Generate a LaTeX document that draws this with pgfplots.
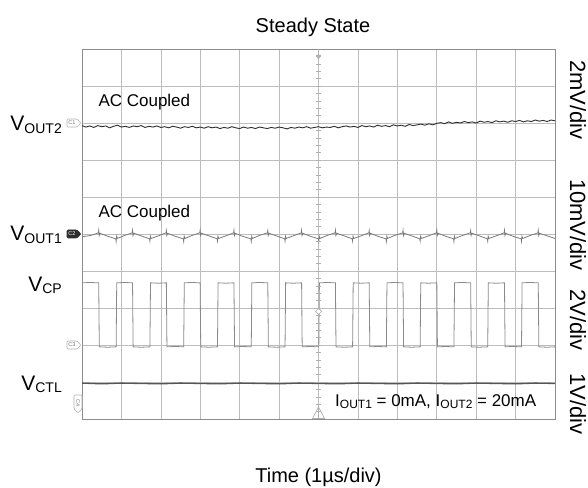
\documentclass[border=0pt]{standalone}
\usepackage{pgfplots}
\pgfplotsset{compat=1.18}
\usepackage{fontspec}
\setmainfont{Liberation Sans}
\definecolor{gridc}{HTML}{BDBDBD}
\definecolor{framec}{HTML}{8C8C8C}
\definecolor{vo2}{HTML}{2E2E2E}
\definecolor{vo1}{HTML}{7A7A7A}
\definecolor{vcp}{HTML}{8A8A8A}
\definecolor{vctl}{HTML}{555555}
\definecolor{markc}{HTML}{B0B0B0}
\newcommand{\Vlab}[1]{{\fontsize{21}{21}\selectfont V\raisebox{-2.3pt}{\fontsize{14}{14}\selectfont #1}}}
\newcommand{\Isub}[1]{I\raisebox{-2pt}{\fontsize{12}{12}\selectfont #1}}
\begin{document}
\begin{tikzpicture}[x=1pt,y=1pt]
\useasboundingbox (0,0) rectangle (588,487);
\begin{axis}[
  at={(82pt,68pt)}, anchor=south west,
  width=473pt, height=370pt, scale only axis,
  xmin=0, xmax=12, ymin=0, ymax=10,
  xtick={0,1,...,12}, ytick={0,1,...,10},
  xticklabels={}, yticklabels={},
  major tick length=0pt,
  grid=major, grid style={gridc, line width=0.6pt},
  axis line style={framec, line width=0.9pt},
  clip=true,
]
% V_OUT2
\addplot[vo2, line width=0.9pt] coordinates {
(0.0,7.93) (0.1,7.89) (0.2,7.92) (0.3,7.88) (0.4,7.93) (0.5,7.90) (0.6,7.92) (0.7,7.87) (0.8,7.91) (0.9,7.94)
(1.0,7.89) (1.1,7.91) (1.2,7.88) (1.3,7.92) (1.4,7.90) (1.5,7.93) (1.6,7.88) (1.7,7.91) (1.8,7.89) (1.9,7.92)
(2.0,7.88) (2.1,7.90) (2.2,7.87) (2.3,7.91) (2.4,7.89) (2.5,7.86) (2.6,7.90) (2.7,7.88) (2.8,7.91) (2.9,7.87)
(3.0,7.89) (3.1,7.86) (3.2,7.90) (3.3,7.87) (3.4,7.89) (3.5,7.85) (3.6,7.88) (3.7,7.86) (3.8,7.90) (3.9,7.87)
(4.0,7.85) (4.1,7.89) (4.2,7.86) (4.3,7.88) (4.4,7.85) (4.5,7.89) (4.6,7.87) (4.7,7.85) (4.8,7.88) (4.9,7.86)
(5.0,7.89) (5.1,7.87) (5.2,7.84) (5.3,7.88) (5.4,7.86) (5.5,7.89) (5.6,7.87) (5.7,7.90) (5.8,7.86) (5.9,7.88)
(6.0,7.90) (6.1,7.87) (6.2,7.89) (6.3,7.88) (6.4,7.91) (6.5,7.87) (6.6,7.90) (6.7,7.92) (6.8,7.89) (6.9,7.91)
(7.0,7.88) (7.1,7.93) (7.2,7.90) (7.3,7.92) (7.4,7.89) (7.5,7.94) (7.6,7.91) (7.7,7.93) (7.8,7.90) (7.9,7.95)
(8.0,7.92) (8.1,7.94) (8.2,7.91) (8.3,7.96) (8.4,7.93) (8.5,7.95) (8.6,7.97) (8.7,7.94) (8.8,7.98) (8.9,7.95)
(9.0,7.99) (9.1,8.01) (9.2,7.98) (9.3,8.03) (9.4,7.99) (9.5,8.02) (9.6,8.00) (9.7,8.04) (9.8,8.01) (9.9,8.03)
(10.0,8.00) (10.1,8.05) (10.2,8.02) (10.3,8.04) (10.4,8.01) (10.5,8.06) (10.6,8.03) (10.7,8.05) (10.8,8.02) (10.9,8.06)
(11.0,8.04) (11.1,8.07) (11.2,8.03) (11.3,8.06) (11.4,8.04) (11.5,8.08) (11.6,8.05) (11.7,8.07) (11.8,8.04) (11.9,8.08)
(12.0,8.06)
};
% V_OUT1
\addplot[vo1, line width=0.8pt] coordinates {
(0,4.88) (0.012,4.93) (0.22,4.96)
(0.414,5.03) (0.424,5.10) (0.436,4.96) (0.454,5.02) (0.65,4.94)
(0.856,4.87) (0.866,4.80) (0.878,4.94) (0.896,4.88) (1.08,4.96)
(1.272,5.03) (1.282,5.10) (1.294,4.96) (1.312,5.02) (1.50,4.95)
(1.713,4.87) (1.723,4.81) (1.735,4.94) (1.753,4.88) (1.94,4.95)
(2.130,5.03) (2.140,5.09) (2.152,4.96) (2.170,5.02) (2.36,4.94)
(2.570,4.87) (2.580,4.80) (2.592,4.94) (2.610,4.88) (2.79,4.96)
(2.987,5.03) (2.997,5.10) (3.009,4.96) (3.027,5.02) (3.22,4.95)
(3.427,4.87) (3.437,4.81) (3.449,4.94) (3.467,4.88) (3.65,4.95)
(3.845,5.03) (3.855,5.10) (3.867,4.96) (3.885,5.02) (4.07,4.94)
(4.284,4.87) (4.294,4.80) (4.306,4.94) (4.324,4.88) (4.50,4.96)
(4.703,5.03) (4.713,5.09) (4.725,4.96) (4.743,5.02) (4.93,4.95)
(5.141,4.87) (5.151,4.81) (5.163,4.94) (5.181,4.88) (5.36,4.95)
(5.561,5.03) (5.571,5.10) (5.583,4.96) (5.601,5.02) (5.79,4.94)
(5.998,4.87) (6.008,4.80) (6.020,4.94) (6.038,4.88) (6.22,4.96)
(6.419,5.03) (6.429,5.10) (6.441,4.96) (6.459,5.02) (6.65,4.95)
(6.855,4.87) (6.865,4.81) (6.877,4.94) (6.895,4.88) (7.08,4.95)
(7.276,5.03) (7.286,5.09) (7.298,4.96) (7.316,5.02) (7.50,4.94)
(7.712,4.87) (7.722,4.80) (7.734,4.94) (7.752,4.88) (7.93,4.96)
(8.134,5.03) (8.144,5.10) (8.156,4.96) (8.174,5.02) (8.36,4.95)
(8.569,4.87) (8.579,4.81) (8.591,4.94) (8.609,4.88) (8.79,4.95)
(8.992,5.03) (9.002,5.10) (9.014,4.96) (9.032,5.02) (9.22,4.94)
(9.426,4.87) (9.436,4.80) (9.448,4.94) (9.466,4.88) (9.65,4.96)
(9.850,5.03) (9.860,5.09) (9.872,4.96) (9.890,5.02) (10.08,4.95)
(10.283,4.87) (10.293,4.81) (10.305,4.94) (10.323,4.88) (10.51,4.95)
(10.708,5.03) (10.718,5.10) (10.730,4.96) (10.748,5.02) (10.93,4.94)
(11.140,4.87) (11.150,4.80) (11.162,4.94) (11.180,4.88) (11.37,4.96)
(11.565,5.03) (11.575,5.10) (11.587,4.96) (11.605,5.02) (11.80,4.95) (12,4.88)
};
% V_CP
\addplot[vcp, line width=0.8pt] coordinates {
(0,3.68) (0.20,3.69) (0.424,3.68) (0.439,1.95) (0.65,1.94) (0.866,1.95) (0.881,3.68) (1.08,3.69)
(1.282,3.68) (1.297,1.95) (1.50,1.94) (1.723,1.95) (1.738,3.68) (1.94,3.67)
(2.140,3.68) (2.155,1.95) (2.36,1.96) (2.580,1.95) (2.595,3.68) (2.79,3.69)
(2.997,3.68) (3.012,1.95) (3.22,1.94) (3.437,1.95) (3.452,3.68) (3.65,3.67)
(3.855,3.68) (3.870,1.95) (4.07,1.96) (4.294,1.95) (4.309,3.68) (4.50,3.69)
(4.713,3.68) (4.728,1.95) (4.93,1.94) (5.151,1.95) (5.166,3.68) (5.36,3.67)
(5.571,3.68) (5.586,1.95) (5.79,1.96) (6.008,1.95) (6.023,3.68) (6.22,3.69)
(6.429,3.68) (6.444,1.95) (6.65,1.94) (6.865,1.95) (6.880,3.68) (7.08,3.67)
(7.286,3.68) (7.301,1.95) (7.50,1.96) (7.722,1.95) (7.737,3.68) (7.93,3.69)
(8.144,3.68) (8.159,1.95) (8.36,1.94) (8.579,1.95) (8.594,3.68) (8.79,3.67)
(9.002,3.68) (9.017,1.95) (9.22,1.96) (9.436,1.95) (9.451,3.68) (9.65,3.69)
(9.860,3.68) (9.875,1.95) (10.08,1.94) (10.293,1.95) (10.308,3.68) (10.51,3.67)
(10.718,3.68) (10.733,1.95) (10.93,1.96) (11.150,1.95) (11.165,3.68) (11.37,3.69)
(11.575,3.68) (11.590,1.95) (11.80,1.94) (12,1.95)
};
% V_CTL
\addplot[vctl, line width=1.3pt] coordinates {
(0,0.97) (0.5,0.95) (1,0.97) (1.5,0.96) (2,0.95) (2.5,0.97) (3,0.96) (3.5,0.95) (4,0.97) (4.5,0.96)
(5,0.95) (5.5,0.97) (6,0.96) (6.5,0.95) (7,0.97) (7.5,0.96) (8,0.95) (8.5,0.97) (9,0.96) (9.5,0.95)
(10,0.97) (10.5,0.96) (11,0.95) (11.5,0.97) (12,0.96)
};
\end{axis}
% center line minor ticks
\foreach \i in {1,...,49} {\draw[markc, line width=0.5pt] (316,{68+7.4*\i}) -- (321,{68+7.4*\i});}
% trigger markers
\draw[markc, line width=0.6pt] (318.5,438) -- (318.5,428);
\draw[markc, fill=markc] (316,432) -- (321,432) -- (318.5,428) -- cycle;
\draw[markc, line width=0.7pt] (318.5,80) -- (312.5,68.5) -- (324.5,68.5) -- cycle;
\draw[markc, line width=0.6pt] (318.5,68) -- (318.5,82);
\draw[markc, line width=0.7pt, fill=white] (318.5,178.5) -- (321.5,175.5) -- (318.5,172.5) -- (315.5,175.5) -- cycle;
% channel markers
\newcommand{\chm}[4]{%
  \draw[#4, line width=0.6pt, rounded corners=1pt, fill=#3] (67,#1-4) -- (77,#1-4) -- (81,#1) -- (77,#1+4) -- (67,#1+4) -- cycle;
  \node[font=\fontsize{5.5}{5.5}\selectfont, text=#4!70!black, inner sep=0pt] at (72,#1) {#2};}
\chm{364}{C1}{white}{markc}
\chm{253}{\textcolor{white}{C2}}{vo2}{vo2}
\chm{142}{C3}{white}{markc}
\draw[markc, line width=0.6pt, rounded corners=1pt, fill=white] (74,92) -- (82,92) -- (82,78) -- (78,74) -- (74,78) -- cycle;
\node[font=\fontsize{5.5}{5.5}\selectfont, text=markc!70!black, inner sep=0pt, rotate=-90] at (78,84) {C4};
% left labels
\node[anchor=base east, inner sep=0pt] at (62,356) {\Vlab{OUT2}};
\node[anchor=base east, inner sep=0pt] at (62,246) {\Vlab{OUT1}};
\node[anchor=base east, inner sep=0pt] at (62,195.5) {\Vlab{CP}};
\node[anchor=base east, inner sep=0pt] at (62,97) {\Vlab{CTL}};
% in-plot text
\node[anchor=base west, inner sep=0pt, font=\fontsize{17}{17}\selectfont] at (98.3,380.3) {AC Coupled};
\node[anchor=base west, inner sep=0pt, font=\fontsize{17}{17}\selectfont] at (98.3,269.7) {AC Coupled};
\node[anchor=base west, inner sep=0pt, font=\fontsize{17}{17}\selectfont] at (335,80.3) {\Isub{OUT1} = 0mA, \Isub{OUT2} = 20mA};
% right labels
\node[rotate=-90, inner sep=0pt, font=\fontsize{22}{22}\selectfont] at (578,387) {2mV/div};
\node[rotate=-90, inner sep=0pt, font=\fontsize{22}{22}\selectfont] at (578,262) {10mV/div};
\node[rotate=-90, inner sep=0pt, font=\fontsize{22}{22}\selectfont] at (578,167) {2V/div};
\node[rotate=-90, inner sep=0pt, font=\fontsize{22}{22}\selectfont] at (578,83) {1V/div};
% title and x label
\node[anchor=base, inner sep=0pt, font=\fontsize{20}{20}\selectfont] at (313,454) {Steady State};
\node[anchor=base, inner sep=0pt, font=\fontsize{20}{20}\selectfont] at (318.5,5) {Time (1µs/div)};
\end{tikzpicture}
\end{document}
